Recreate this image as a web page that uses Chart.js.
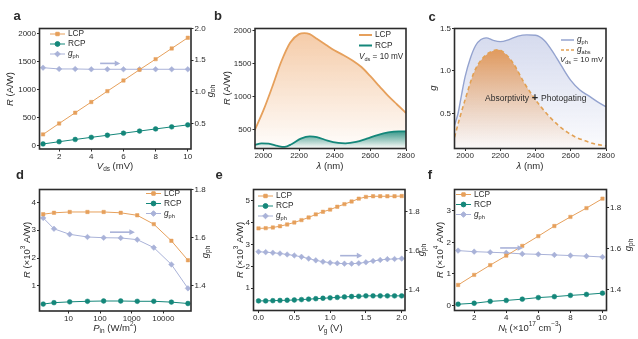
<!DOCTYPE html>
<html>
<head>
<meta charset="utf-8">
<script src="https://cdn.jsdelivr.net/npm/chart.js@4.4.1/dist/chart.umd.min.js"></script>
<style>
    html, body { margin: 0; padding: 0; background: #fff; }
    body { position: relative; width: 638px; height: 339px; overflow: hidden; }
    canvas { position: absolute; }
</style>
</head>
<body>
<canvas id="pa"></canvas>
<canvas id="pb"></canvas>
<canvas id="pc"></canvas>
<canvas id="pd"></canvas>
<canvas id="pe"></canvas>
<canvas id="pf"></canvas>
<script>
// (a) responsivity vs drain voltage
const vdsA = [1, 2, 3, 4, 5, 6, 7, 8, 9, 10]
const lcpA = [200, 395, 587, 778, 972, 1162, 1355, 1543, 1734, 1925]
const rcpA = [30, 70, 110, 148, 185, 222, 260, 298, 335, 370]
const gphA = [1.38, 1.36, 1.36, 1.355, 1.355, 1.355, 1.355, 1.355, 1.355, 1.355]

// (b) spectral responsivity at Vds = 10 mV
const lamLcpB = [1950, 2000, 2050, 2100, 2150, 2200, 2230, 2260, 2300, 2350, 2400, 2450, 2500, 2550, 2600, 2650, 2700, 2750, 2800]
const lcpB = [480, 790, 1150, 1530, 1820, 1950, 1965, 1950, 1880, 1790, 1700, 1630, 1550, 1450, 1310, 1160, 1010, 880, 750]
const lamRcpB = [1950, 1990, 2030, 2080, 2120, 2160, 2210, 2260, 2300, 2360, 2420, 2460, 2520, 2580, 2640, 2700, 2760, 2800]
const rcpB = [265, 290, 285, 250, 235, 280, 360, 395, 385, 330, 295, 288, 310, 360, 415, 455, 470, 470]

// (c) dissymmetry factors
const lamGphC = [1940, 1960, 1980, 2000, 2030, 2060, 2090, 2120, 2160, 2200, 2250, 2300, 2350, 2400, 2450, 2500, 2550, 2600, 2650, 2700, 2750, 2800]
const gphC = [0.36, 0.5, 0.72, 0.93, 1.15, 1.3, 1.37, 1.39, 1.36, 1.345, 1.37, 1.41, 1.425, 1.42, 1.36, 1.22, 1.05, 0.89, 0.78, 0.71, 0.64, 0.58]
const lamAbsC = [1940, 1970, 2000, 2050, 2100, 2150, 2190, 2230, 2280, 2330, 2380, 2430, 2480, 2530, 2580, 2630, 2680, 2740, 2800]
const gabsC = [0.22, 0.45, 0.66, 0.98, 1.15, 1.23, 1.25, 1.2, 1.07, 0.88, 0.72, 0.58, 0.46, 0.36, 0.28, 0.22, 0.18, 0.14, 0.12]

// (d) light intensity
const pinD = [1.6, 3.5, 11, 40, 130, 450, 1500, 5000, 18000, 60000]
const lcpD = [3.58, 3.63, 3.66, 3.66, 3.66, 3.63, 3.54, 3.22, 2.62, 1.92]
const rcpD = [0.34, 0.39, 0.42, 0.44, 0.45, 0.45, 0.44, 0.44, 0.41, 0.36]
const gphD = [1.682, 1.637, 1.614, 1.603, 1.6, 1.599, 1.592, 1.559, 1.489, 1.39]

// (e) gate voltage
const vgE = [0, 0.1, 0.2, 0.3, 0.4, 0.5, 0.6, 0.7, 0.8, 0.9, 1.0, 1.1, 1.2, 1.3, 1.4, 1.5, 1.6, 1.7, 1.8, 1.9, 2.0]
const lcpE = [3.74, 3.75, 3.78, 3.84, 3.92, 4.01, 4.12, 4.24, 4.38, 4.5, 4.6, 4.73, 4.85, 4.97, 5.1, 5.18, 5.21, 5.21, 5.21, 5.21, 5.22]
const rcpE = [0.42, 0.42, 0.43, 0.44, 0.45, 0.46, 0.48, 0.5, 0.52, 0.54, 0.56, 0.58, 0.6, 0.62, 0.63, 0.65, 0.65, 0.65, 0.65, 0.65, 0.65]
const gphE = [1.595, 1.593, 1.59, 1.586, 1.581, 1.576, 1.569, 1.56, 1.551, 1.544, 1.539, 1.536, 1.534, 1.534, 1.536, 1.541, 1.548, 1.553, 1.557, 1.558, 1.56]

// (f) trap density
const ntF = [1, 2, 3, 4, 5, 6, 7, 8, 9, 10]
const lcpF = [0.65, 0.97, 1.28, 1.58, 1.89, 2.2, 2.52, 2.81, 3.09, 3.39]
const rcpF = [0.04, 0.07, 0.13, 0.16, 0.2, 0.25, 0.28, 0.32, 0.35, 0.39]
const gphF = [1.591, 1.586, 1.583, 1.58, 1.575, 1.573, 1.57, 1.567, 1.564, 1.56]

// tick labels
const ticksVds = [2, 4, 6, 8, 10]
const ticksRA = [0, 500, 1000, 1500, 2000]
const ticksGA = [0.5, 1.0, 1.5, 2.0]
const ticksLam = [2000, 2200, 2400, 2600, 2800]
const ticksRB = [500, 1000, 1500, 2000]
const ticksGC = [0.5, 1.0, 1.5]
const ticksPin = [10, 100, 1000, 10000]
const ticksRD = [1, 2, 3, 4]
const ticksVg = [0, 0.5, 1.0, 1.5, 2.0]
const ticksRE = [1, 2, 3, 4, 5]
const ticksRF = [0, 1, 2, 3]
const ticksNt = [2, 4, 6, 8, 10]
const ticksG2 = [1.4, 1.6, 1.8]

const FONT = "'Liberation Sans', Arial, sans-serif"
const INK = '#2b2b2b'
const C_LCP = '#E6A05C'
const C_RCP = '#14877A'
const C_GPH = '#A9B2D8'

const fix1 = v => v.toFixed(1)
const plain = v => String(v)

// ---- helpers ----
function drawRich(ctx, segs, x, y, size, align, rot, bold) {
    ctx.save()
    ctx.translate(x, y)
    if (rot) ctx.rotate(rot)
    const parts = segs.map(([t, s]) => {
        const small = s === 's' || s === 'p'
        const fs = small ? size * 0.68 : size
        const font = (s === 'i' ? 'italic ' : '') + (bold ? 'bold ' : '') + fs + 'px ' + FONT
        ctx.font = font
        return { t, font, w: ctx.measureText(t).width, dy: s === 's' ? size * 0.32 : s === 'p' ? -size * 0.36 : 0 }
    })
    const total = parts.reduce((acc, p) => acc + p.w, 0)
    let cx = align === 'center' ? -total / 2 : align === 'right' ? -total : 0
    ctx.textBaseline = 'middle'
    ctx.textAlign = 'left'
    ctx.fillStyle = INK
    parts.forEach(p => {
        ctx.font = p.font
        ctx.fillText(p.t, cx, p.dy)
        cx += p.w
    })
    ctx.restore()
}

function axis(pos, s, size) {
    return {
        type: s.type || 'linear',
        position: pos,
        min: s.min,
        max: s.max,
        afterBuildTicks: sc => { sc.ticks = s.ticks.map(v => ({ value: v })) },
        afterFit: sc => { if (pos === 'bottom') sc.height = size; else sc.width = size },
        grid: { drawOnChartArea: false, tickLength: 2.5, color: INK, lineWidth: 1 },
        border: { display: false },
        ticks: { color: INK, padding: pos === 'bottom' ? 0 : 1, font: { family: FONT, size: 8 }, maxRotation: 0, autoSkip: false, callback: s.fmt }
    }
}

function series(xs, ys, color, style, axisId) {
    return {
        data: xs.map((x, i) => ({ x, y: ys[i] })),
        yAxisID: axisId,
        borderColor: color,
        backgroundColor: color,
        borderWidth: 1,
        pointStyle: style,
        pointRadius: style === 'rectRot' ? 2.8 : 2.4,
        pointBorderWidth: 0.5,
        fill: false,
        tension: 0
    }
}

function vGradient(axisId, topValue, c0, c1) {
    return ctx => {
        const ch = ctx.chart
        const a = ch.chartArea
        if (!a) return c1
        const top = topValue == null ? a.top : ch.scales[axisId].getPixelForValue(topValue)
        const g = ch.ctx.createLinearGradient(0, top, 0, a.bottom)
        g.addColorStop(0, c0)
        g.addColorStop(1, c1)
        return g
    }
}

function decor(p) {
    return {
        id: 'decor',
        afterDraw(chart) {
            const ctx = chart.ctx
            const a = chart.chartArea
            const ox = p.box.x, oy = p.box.y

            if (p.arrow) {
                const r = p.arrow
                const xs = chart.scales.x, ys = chart.scales[r.axis]
                const x0 = xs.getPixelForValue(r.from), x1 = xs.getPixelForValue(r.to), y = ys.getPixelForValue(r.at)
                ctx.save()
                ctx.strokeStyle = C_GPH
                ctx.fillStyle = C_GPH
                ctx.lineWidth = 1.6
                ctx.beginPath()
                ctx.moveTo(x0, y)
                ctx.lineTo(x1 - 4, y)
                ctx.stroke()
                ctx.beginPath()
                ctx.moveTo(x1, y)
                ctx.lineTo(x1 - 5.5, y - 2.8)
                ctx.lineTo(x1 - 5.5, y + 2.8)
                ctx.closePath()
                ctx.fill()
                ctx.restore()
            }

            ctx.save()
            ctx.strokeStyle = INK
            ctx.lineWidth = 1.6
            ctx.strokeRect(a.left, a.top, a.right - a.left, a.bottom - a.top)
            ctx.restore()

            const items = p.legend || []
            items.forEach(it => {
                const x = it.x - ox, y = it.y - oy, len = it.len || 15
                ctx.save()
                ctx.strokeStyle = it.color
                ctx.fillStyle = it.color
                ctx.lineWidth = it.width || 1
                if (it.dash) ctx.setLineDash(it.dash)
                ctx.beginPath()
                ctx.moveTo(x, y)
                ctx.lineTo(x + len, y)
                ctx.stroke()
                ctx.setLineDash([])
                if (it.style) {
                    Chart.helpers.drawPoint(ctx, { pointStyle: it.style, radius: it.style === 'rectRot' ? 2.8 : 2.4, borderWidth: 0.5, rotation: 0 }, x + len / 2, y)
                }
                ctx.restore()
                drawRich(ctx, it.segs, x + len + 3, y, 8.3, 'left', 0, false)
            })

            const texts = p.texts || []
            texts.forEach(t => {
                drawRich(ctx, t.segs, t.x - ox, t.y - oy, t.size || 9.5, t.align || 'center', t.rot ? -Math.PI / 2 : 0, t.bold)
            })
        }
    }
}

function buildPanel(id, p) {
    const cv = document.getElementById(id)
    const b = p.box, a = p.area
    cv.width = b.w
    cv.height = b.h
    cv.style.left = b.x + 'px'
    cv.style.top = b.y + 'px'
    cv.style.width = b.w + 'px'
    cv.style.height = b.h + 'px'

    const scales = {
        x: axis('bottom', p.x, b.y + b.h - a.b),
        y: axis('left', p.y, a.l - b.x)
    }
    if (p.y2) scales.y2 = axis('right', p.y2, b.x + b.w - a.r)

    return new Chart(cv, {
        type: 'line',
        data: { datasets: p.datasets },
        options: {
            responsive: false,
            animation: false,
            events: [],
            layout: { padding: { top: a.t - b.y, left: 0, bottom: 0, right: p.y2 ? 0 : b.x + b.w - a.r } },
            plugins: { legend: { display: false }, tooltip: { enabled: false } },
            scales
        },
        plugins: [decor(p)]
    })
}

// shared text pieces
const T_GPH = [['g', 'i'], ['ph', 's']]
const T_GABS = [['g', 'i'], ['abs', 's']]
const T_VDS10 = [['V', 'i'], ['ds', 's'], [' = 10 mV']]
const T_LAM = [['λ', 'i'], [' (nm)']]
const T_R3 = [['R', 'i'], [' (×10'], ['3', 'p'], [' A/W)']]
const T_R4 = [['R', 'i'], [' (×10'], ['4', 'p'], [' A/W)']]

function pointLegend(x, y0) {
    return [
        { x, y: y0, color: C_LCP, style: 'rect', segs: [['LCP']] },
        { x, y: y0 + 10, color: C_RCP, style: 'circle', segs: [['RCP']] },
        { x, y: y0 + 20, color: C_GPH, style: 'rectRot', segs: T_GPH }
    ]
}

// ---- panel a ----
buildPanel('pa', {
    box: { x: 0, y: 0, w: 215, h: 172 },
    area: { l: 39.5, t: 28.5, r: 191, b: 149 },
    x: { min: 0.78, max: 10.2, ticks: ticksVds, fmt: plain },
    y: { min: -60, max: 2090, ticks: ticksRA, fmt: plain },
    y2: { min: 0.094, max: 2.0, ticks: ticksGA, fmt: fix1 },
    datasets: [
        series(vdsA, lcpA, C_LCP, 'rect', 'y'),
        series(vdsA, rcpA, C_RCP, 'circle', 'y'),
        series(vdsA, gphA, C_GPH, 'rectRot', 'y2')
    ],
    arrow: { axis: 'y2', from: 4.55, to: 5.8, at: 1.448 },
    legend: pointLegend(50, 34),
    texts: [
        { segs: [['a']], x: 17, y: 16, size: 13, bold: true },
        { segs: [['R', 'i'], [' (A/W)']], x: 10, y: 89, rot: true },
        { segs: T_GPH, x: 210, y: 91, rot: true },
        { segs: [['V', 'i'], ['ds', 's'], [' (mV)']], x: 115, y: 166.5 }
    ]
})

// ---- panel b ----
buildPanel('pb', {
    box: { x: 205, y: 0, w: 225, h: 172 },
    area: { l: 255, t: 28.5, r: 406, b: 148.5 },
    x: { min: 1953, max: 2800, ticks: ticksLam, fmt: plain },
    y: { min: 211, max: 2036, ticks: ticksRB, fmt: plain },
    datasets: [
        {
            data: lamRcpB.map((x, i) => ({ x, y: rcpB[i] })),
            yAxisID: 'y', order: 0,
            borderColor: C_RCP, borderWidth: 1.8, pointRadius: 0,
            tension: 0.4, cubicInterpolationMode: 'monotone',
            fill: 'start',
            backgroundColor: vGradient('y', 480, 'rgba(20,135,120,0.85)', 'rgba(20,135,120,0)')
        },
        {
            data: lamLcpB.map((x, i) => ({ x, y: lcpB[i] })),
            yAxisID: 'y', order: 1,
            borderColor: C_LCP, borderWidth: 1.8, pointRadius: 0,
            tension: 0.4, cubicInterpolationMode: 'monotone',
            fill: 'start',
            backgroundColor: vGradient('y', null, 'rgba(236,158,92,0.55)', 'rgba(236,158,92,0.02)')
        }
    ],
    legend: [
        { x: 359, y: 35, color: C_LCP, width: 2, len: 13, segs: [['LCP']] },
        { x: 359, y: 45.5, color: C_RCP, width: 2, len: 13, segs: [['RCP']] }
    ],
    texts: [
        { segs: [['b']], x: 218, y: 16, size: 13, bold: true },
        { segs: [['R', 'i'], [' (A/W)']], x: 227, y: 88, rot: true },
        { segs: T_LAM, x: 330, y: 166.5 },
        { segs: T_VDS10, x: 359, y: 57, size: 8.2, align: 'left' }
    ]
})

// ---- panel c ----
buildPanel('pc', {
    box: { x: 415, y: 0, w: 223, h: 172 },
    area: { l: 454.5, t: 28.5, r: 606, b: 148.5 },
    x: { min: 1940, max: 2800, ticks: ticksLam, fmt: plain },
    y: { min: 0.088, max: 1.5, ticks: ticksGC, fmt: fix1 },
    datasets: [
        {
            data: lamAbsC.map((x, i) => ({ x, y: gabsC[i] })),
            yAxisID: 'y', order: 0,
            borderColor: '#E2A154', borderWidth: 1.6, borderDash: [4, 3], pointRadius: 0,
            tension: 0.4, cubicInterpolationMode: 'monotone',
            fill: 'start',
            backgroundColor: vGradient('y', 1.25, 'rgba(226,142,68,0.85)', 'rgba(240,175,120,0.04)')
        },
        {
            data: lamGphC.map((x, i) => ({ x, y: gphC[i] })),
            yAxisID: 'y', order: 1,
            borderColor: '#94A3CF', borderWidth: 1.4, pointRadius: 0,
            tension: 0.4, cubicInterpolationMode: 'monotone',
            fill: 'start',
            backgroundColor: vGradient('y', null, 'rgba(150,163,212,0.42)', 'rgba(150,163,212,0.04)')
        }
    ],
    legend: [
        { x: 561, y: 40, color: '#94A3CF', width: 1.5, len: 13, segs: T_GPH },
        { x: 561, y: 50, color: '#E2A154', width: 1.5, len: 13, dash: [3, 2], segs: T_GABS }
    ],
    texts: [
        { segs: [['c']], x: 432, y: 17, size: 13, bold: true },
        { segs: [['g', 'i']], x: 433, y: 88, rot: true },
        { segs: T_LAM, x: 530, y: 166.5 },
        { segs: T_VDS10, x: 560, y: 60, size: 8, align: 'left' },
        { segs: [['Absorptivity']], x: 529, y: 98.5, size: 8.5, align: 'right' },
        { segs: [['+']], x: 535, y: 97.5, size: 11, bold: true },
        { segs: [['Photogating']], x: 541, y: 98.5, size: 8.5, align: 'left' }
    ]
})

// ---- panel d ----
buildPanel('pd', {
    box: { x: 0, y: 170, w: 215, h: 169 },
    area: { l: 39.5, t: 189.5, r: 191, b: 311 },
    x: { type: 'logarithmic', min: 1.22, max: 75000, ticks: ticksPin, fmt: plain },
    y: { min: 0.09, max: 4.47, ticks: ticksRD, fmt: plain },
    y2: { min: 1.296, max: 1.8, ticks: ticksG2, fmt: fix1 },
    datasets: [
        series(pinD, lcpD, C_LCP, 'rect', 'y'),
        series(pinD, rcpD, C_RCP, 'circle', 'y'),
        series(pinD, gphD, C_GPH, 'rectRot', 'y2')
    ],
    arrow: { axis: 'y2', from: 206, to: 1260, at: 1.623 },
    legend: pointLegend(146, 193.5),
    texts: [
        { segs: [['d']], x: 20, y: 175, size: 13, bold: true },
        { segs: T_R3, x: 27, y: 250, rot: true },
        { segs: T_GPH, x: 205, y: 252, rot: true },
        { segs: [['P', 'i'], ['in', 's'], [' (W/m'], ['2', 'p'], [')']], x: 115, y: 328 }
    ]
})

// ---- panel e ----
buildPanel('pe', {
    box: { x: 205, y: 170, w: 225, h: 169 },
    area: { l: 253.5, t: 189.5, r: 405, b: 310.5 },
    x: { min: -0.07, max: 2.046, ticks: ticksVg, fmt: fix1 },
    y: { min: -0.02, max: 5.52, ticks: ticksRE, fmt: plain },
    y2: { min: 1.294, max: 1.914, ticks: ticksG2, fmt: fix1 },
    datasets: [
        series(vgE, lcpE, C_LCP, 'rect', 'y'),
        series(vgE, rcpE, C_RCP, 'circle', 'y'),
        series(vgE, gphE, C_GPH, 'rectRot', 'y2')
    ],
    arrow: { axis: 'y2', from: 1.14, to: 1.45, at: 1.575 },
    legend: pointLegend(258, 196),
    texts: [
        { segs: [['e']], x: 219, y: 175, size: 13, bold: true },
        { segs: T_R3, x: 240, y: 250, rot: true },
        { segs: T_GPH, x: 421, y: 250, rot: true },
        { segs: [['V', 'i'], ['g', 's'], [' (V)']], x: 330, y: 328.5 }
    ]
})

// ---- panel f ----
buildPanel('pf', {
    box: { x: 420, y: 170, w: 218, h: 169 },
    area: { l: 454.5, t: 189.5, r: 606.5, b: 310.5 },
    x: { min: 0.775, max: 10.25, ticks: ticksNt, fmt: plain },
    y: { min: -0.16, max: 3.68, ticks: ticksRF, fmt: plain },
    y2: { min: 1.299, max: 1.889, ticks: ticksG2, fmt: fix1 },
    datasets: [
        series(ntF, lcpF, C_LCP, 'rect', 'y'),
        series(ntF, rcpF, C_RCP, 'circle', 'y'),
        series(ntF, gphF, C_GPH, 'rectRot', 'y2')
    ],
    arrow: { axis: 'y2', from: 3.62, to: 5.05, at: 1.604 },
    legend: pointLegend(456, 194.5),
    texts: [
        { segs: [['f']], x: 430, y: 175, size: 13, bold: true },
        { segs: T_R4, x: 440, y: 250, rot: true },
        { segs: T_GPH, x: 628, y: 245, rot: true },
        { segs: [['N', 'i'], ['t', 's'], [' (×10'], ['17', 'p'], [' cm'], ['−3', 'p'], [')']], x: 530, y: 328 }
    ]
})
</script>
</body>
</html>
